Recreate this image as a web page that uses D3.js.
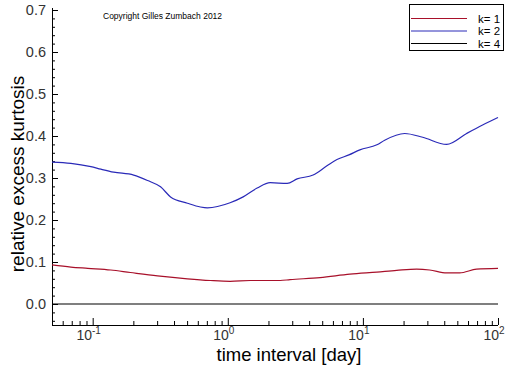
<!DOCTYPE html>
<html>
<head>
<meta charset="utf-8">
<script src="https://d3js.org/d3.v7.min.js"></script>
<style>
  body { margin: 0; background: #fff; }
  svg { display: block; font-family: "Liberation Sans", Arial, sans-serif; }
</style>
</head>
<body>
<div id="chart"></div>
<script>
// series (time interval in days, relative excess kurtosis)
const k1Days = [0.05, 0.069, 0.092, 0.136, 0.19, 0.302, 0.503, 0.743, 1.04, 1.47, 2.44, 2.89, 4.82, 8.02, 12.7, 17.8, 25.0, 31.2, 41.7, 52.0, 69.4, 100];
const k1Values = [0.093, 0.088, 0.085, 0.081, 0.075, 0.067, 0.060, 0.056, 0.054, 0.056, 0.056, 0.058, 0.063, 0.071, 0.076, 0.080, 0.083, 0.081, 0.074, 0.074, 0.083, 0.085];

const k2Days = [0.05, 0.069, 0.097, 0.115, 0.143, 0.201, 0.255, 0.318, 0.377, 0.503, 0.627, 0.706, 1.04, 1.30, 1.65, 2.06, 2.75, 3.26, 4.28, 5.42, 6.43, 7.88, 9.5, 12.7, 14.5, 20.4, 27.7, 41.7, 58.6, 76.9, 100];
const k2Values = [0.338, 0.335, 0.327, 0.321, 0.314, 0.307, 0.294, 0.279, 0.255, 0.240, 0.231, 0.229, 0.241, 0.255, 0.276, 0.289, 0.287, 0.298, 0.307, 0.329, 0.344, 0.355, 0.367, 0.379, 0.390, 0.406, 0.397, 0.380, 0.406, 0.426, 0.444];

const k4Days = [0.05, 100];
const k4Values = [0.0, 0.0];

const seriesNames = ["k= 1", "k= 2", "k= 4"];
const seriesColors = ["#a8102a", "#2a2ab8", "#000000"];

const yTicks = [0.0, 0.1, 0.2, 0.3, 0.4, 0.5, 0.6, 0.7];
const xDecades = [-1, 0, 1, 2];

const width = 512, height = 366;
const svg = d3.select("#chart").append("svg")
  .attr("width", width)
  .attr("height", height);

const x = d3.scaleLog().domain([0.05, 100]).range([52, 498]);
const y = d3.scaleLinear().domain([-0.05, 0.7]).range([325, 10]);

// y axis, ticks drawn inwards
const yAxis = svg.append("g").attr("transform", "translate(52,0)");
yAxis.call(d3.axisRight(y).tickValues(d3.range(-0.04, 0.701, 0.02)).tickSize(3).tickFormat(""));
yAxis.append("g").call(d3.axisRight(y).tickValues(yTicks).tickSize(6).tickFormat(""));
yAxis.selectAll(".domain").remove();
yAxis.selectAll("line").attr("stroke", "#000");
svg.append("line").attr("x1", 52.5).attr("x2", 52.5).attr("y1", 8).attr("y2", 325).attr("stroke", "#000");

svg.append("g").selectAll("text")
  .data(yTicks)
  .join("text")
  .attr("x", 46)
  .attr("y", d => y(d) + 5)
  .attr("text-anchor", "end")
  .attr("font-size", 14.5)
  .attr("fill", "#333")
  .text(d => d.toFixed(1));

// x axis, ticks drawn inwards
const minorX = [];
for (let e = -2; e <= 1; e++) {
  for (let m = 2; m <= 9; m++) {
    const v = m * Math.pow(10, e);
    if (v > 0.05 && v < 100) minorX.push(v);
  }
}
const xAxis = svg.append("g").attr("transform", "translate(0,325)");
xAxis.call(d3.axisTop(x).tickValues(minorX).tickSize(4).tickFormat(""));
xAxis.append("g").call(d3.axisTop(x).tickValues(xDecades.map(e => Math.pow(10, e))).tickSize(7).tickFormat(""));
xAxis.selectAll(".domain").remove();
xAxis.selectAll("line").attr("stroke", "#000");
svg.append("line").attr("x1", 52).attr("x2", 498).attr("y1", 325.5).attr("y2", 325.5).attr("stroke", "#000");

const xLabels = svg.append("g").selectAll("text")
  .data(xDecades)
  .join("text")
  .attr("x", d => x(Math.pow(10, d)) - 4)
  .attr("y", 340)
  .attr("text-anchor", "middle")
  .attr("font-size", 14)
  .attr("fill", "#333");
xLabels.append("tspan").text("10");
xLabels.append("tspan")
  .attr("dy", -6)
  .attr("font-size", 10)
  .text(d => d);

// series
const lineGen = d3.line().x(d => x(d[0])).y(d => y(d[1])).curve(d3.curveMonotoneX);
const series = [
  d3.zip(k1Days, k1Values),
  d3.zip(k2Days, k2Values),
  d3.zip(k4Days, k4Values)
];
svg.append("g").selectAll("path")
  .data(series)
  .join("path")
  .attr("d", lineGen)
  .attr("fill", "none")
  .attr("stroke", (d, i) => seriesColors[i])
  .attr("stroke-width", 1.2);

// axis titles
svg.append("text")
  .attr("x", 289)
  .attr("y", 361)
  .attr("text-anchor", "middle")
  .attr("font-size", 18.5)
  .attr("fill", "#000")
  .text("time interval [day]");

svg.append("text")
  .attr("transform", "translate(24,174) rotate(-90)")
  .attr("text-anchor", "middle")
  .attr("font-size", 19)
  .attr("fill", "#000")
  .text("relative excess kurtosis");

// copyright
svg.append("text")
  .attr("x", 103)
  .attr("y", 19)
  .attr("font-size", 8.5)
  .attr("fill", "#000")
  .text("Copyright Gilles Zumbach 2012");

// legend
const legend = svg.append("g");
legend.append("rect")
  .attr("x", 409.5).attr("y", 4.5)
  .attr("width", 94).attr("height", 46)
  .attr("fill", "#fff").attr("stroke", "#000");
const legendY = [18.5, 31, 43.5];
legend.selectAll("line.item")
  .data(seriesNames)
  .join("line")
  .attr("x1", 411).attr("x2", 467)
  .attr("y1", (d, i) => legendY[i]).attr("y2", (d, i) => legendY[i])
  .attr("stroke", (d, i) => seriesColors[i]);
legend.selectAll("text")
  .data(seriesNames)
  .join("text")
  .attr("x", 478)
  .attr("y", (d, i) => legendY[i] + 4)
  .attr("font-size", 11.5)
  .attr("fill", "#000")
  .text(d => d);
</script>
</body>
</html>
